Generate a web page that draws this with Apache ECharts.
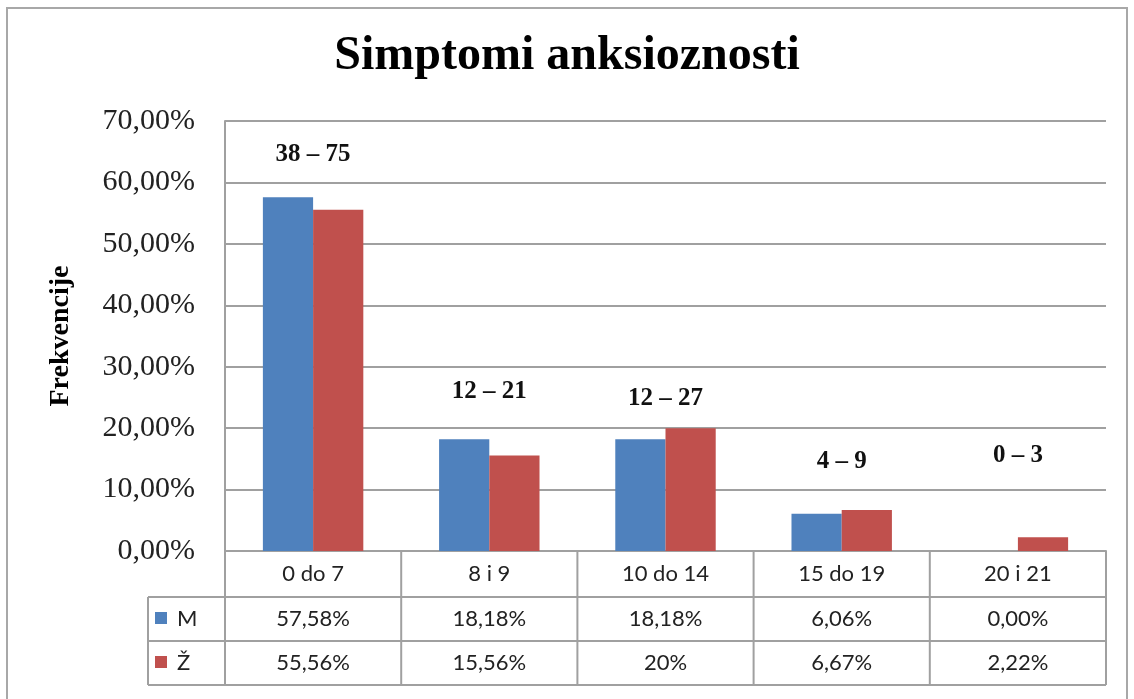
<!DOCTYPE html>
<html>
<head>
<meta charset="utf-8">
<script src="https://cdn.jsdelivr.net/npm/echarts@6/dist/echarts.min.js"></script>
<style>html,body{margin:0;padding:0;background:#fff}#c{width:1134px;height:699px}</style>
</head>
<body>
<div id="c"></div>
<script>
const categories = ['0 do 7', '8 i 9', '10 do 14', '15 do 19', '20 i 21'];
const seriesNames = ['M', 'Ž'];
const valuesM = [57.58, 18.18, 18.18, 6.06, 0.00];
const valuesZ = [55.56, 15.56, 20.00, 6.67, 2.22];
const tableM = ['57,58%', '18,18%', '18,18%', '6,06%', '0,00%'];
const tableZ = ['55,56%', '15,56%', '20%', '6,67%', '2,22%'];
const rangeLabels = ['38 – 75', '12 – 21', '12 – 27', '4 – 9', '0 – 3'];
const rangeLabelAt = [64.5, 25.9, 24.8, 14.5, 15.6];
const colors = ['#4F81BD', '#C0504D'];

const chart = echarts.init(document.getElementById('c'), null, {renderer: 'canvas'});
const serif = '"Liberation Serif", "Times New Roman", serif';
const sans = 'Lato, "Open Sans", sans-serif';
const lineCol = '#a0a0a0';
const tableFont = '22px ' + sans;

chart.setOption({
  animation: false,
  color: colors,
  title: {
    text: 'Simptomi anksioznosti', left: 'center', top: 28,
    textStyle: {fontFamily: serif, fontWeight: 'bold', fontSize: 48, color: '#000'}
  },
  grid: {left: 225, right: 28, top: 121, bottom: 148, containLabel: false},
  xAxis: {
    type: 'category', data: categories,
    axisLine: {show: true, lineStyle: {color: lineCol, width: 2}},
    axisTick: {show: false},
    axisLabel: {margin: 12, fontFamily: sans, fontSize: 22, color: '#222'}
  },
  yAxis: {
    type: 'value', min: 0, max: 70, interval: 10,
    name: 'Frekvencije', nameLocation: 'middle', nameGap: 150, nameRotate: 90,
    nameTextStyle: {fontFamily: serif, fontWeight: 'bold', fontSize: 28, color: '#000'},
    axisLine: {show: true, lineStyle: {color: lineCol, width: 2}},
    axisTick: {show: false},
    splitLine: {lineStyle: {color: lineCol, width: 2}},
    axisLabel: {
      margin: 30, fontFamily: serif, fontSize: 30, color: '#222',
      formatter: v => v.toFixed(2).replace('.', ',') + '%'
    }
  },
  series: [
    {name: seriesNames[0], type: 'bar', data: valuesM, barGap: '0%', barCategoryGap: '43%'},
    {name: seriesNames[1], type: 'bar', data: valuesZ, barGap: '0%', barCategoryGap: '43%'}
  ]
});

// Build data table and annotations from the axis scales
const x0 = chart.convertToPixel({xAxisIndex: 0}, 0);
const x1 = chart.convertToPixel({xAxisIndex: 0}, 1);
const step = x1 - x0;
const gLeft = x0 - step / 2;
const gRight = gLeft + step * categories.length;
const yBase = chart.convertToPixel({yAxisIndex: 0}, 0);
const rowH = 44;
const headH = 46;
const legLeft = 148;
const rowTop1 = yBase + headH;
const rowTop2 = rowTop1 + rowH;
const tableBottom = rowTop2 + rowH;
const g = [];
const ls = {stroke: lineCol, lineWidth: 2};

g.push({type: 'rect', shape: {x: 7, y: 8, width: 1120, height: 700}, style: {fill: 'none', stroke: '#a8a8a8', lineWidth: 2}, z: 0});
g.push({type: 'line', shape: {x1: legLeft, y1: rowTop1, x2: gRight, y2: rowTop1}, style: ls});
g.push({type: 'line', shape: {x1: legLeft, y1: rowTop2, x2: gRight, y2: rowTop2}, style: ls});
g.push({type: 'line', shape: {x1: legLeft, y1: tableBottom, x2: gRight, y2: tableBottom}, style: ls});
g.push({type: 'line', shape: {x1: legLeft, y1: rowTop1, x2: legLeft, y2: tableBottom}, style: ls});
g.push({type: 'line', shape: {x1: gRight, y1: yBase, x2: gRight, y2: tableBottom}, style: ls});
for (let i = 0; i < categories.length; i++) {
  const bx = gLeft + i * step;
  g.push({type: 'line', shape: {x1: bx, y1: yBase, x2: bx, y2: tableBottom}, style: ls});
  const cx = chart.convertToPixel({xAxisIndex: 0}, i);
  g.push({type: 'text', x: cx, y: rowTop1 + rowH / 2, style: {text: tableM[i], font: tableFont, fill: '#222', align: 'center', verticalAlign: 'middle'}});
  g.push({type: 'text', x: cx, y: rowTop2 + rowH / 2, style: {text: tableZ[i], font: tableFont, fill: '#222', align: 'center', verticalAlign: 'middle'}});
  const ay = chart.convertToPixel({yAxisIndex: 0}, rangeLabelAt[i]);
  g.push({type: 'text', x: cx, y: ay, style: {text: rangeLabels[i], font: 'bold 25px ' + serif, fill: '#111', align: 'center', verticalAlign: 'middle'}});
}
[rowTop1, rowTop2].forEach((ty, k) => {
  g.push({type: 'rect', shape: {x: legLeft + 7, y: ty + rowH / 2 - 7, width: 12, height: 12}, style: {fill: colors[k]}});
  g.push({type: 'text', x: legLeft + 29, y: ty + rowH / 2, style: {text: seriesNames[k], font: tableFont, fill: '#222', align: 'left', verticalAlign: 'middle'}});
});
chart.setOption({graphic: g});
</script>
</body>
</html>
